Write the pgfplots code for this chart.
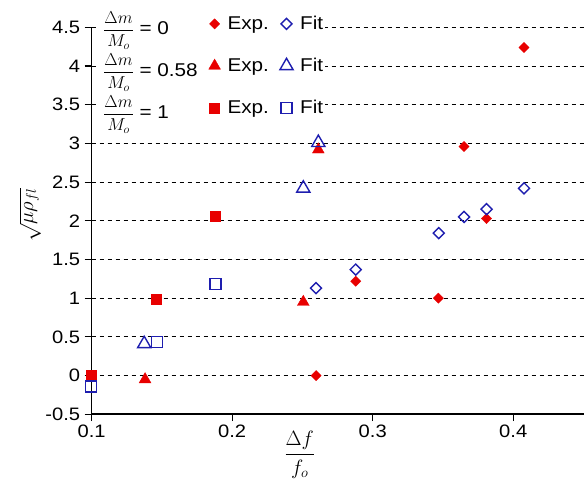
\documentclass[border=0pt]{standalone}
\usepackage{fontspec}
\setmainfont{Liberation Sans}[FakeStretch=1.12]
\usepackage{amsmath}
\usepackage{pgfplots}
\pgfplotsset{compat=1.18}
\definecolor{expred}{RGB}{232,0,0}
\definecolor{fitblue}{RGB}{30,30,175}
\pgfplotsset{
  expD/.style={only marks, mark=square*, mark size=3.6pt, mark options={rotate=45, fill=expred, draw=expred, line width=0.4pt}},
  fitD/.style={only marks, mark=square, mark size=3.9pt, mark options={rotate=45, draw=fitblue, fill=none, line width=1.4pt}},
  expT/.style={only marks, mark=triangle*, mark size=6.8pt, mark options={fill=expred, draw=expred, line width=0.4pt}},
  fitT/.style={only marks, mark=triangle, mark size=7.6pt, mark options={draw=fitblue, fill=none, line width=1.4pt}},
  expS/.style={only marks, mark=square*, mark size=5pt, mark options={fill=expred, draw=expred, line width=0.4pt}},
  fitS/.style={only marks, mark=square, mark size=5.5pt, mark options={draw=fitblue, fill=none, line width=1.4pt}},
}
\begin{document}
\begin{tikzpicture}
\begin{axis}[
  name=ax,
  scale only axis,
  width=492pt, height=387pt,
  xmin=0.1, xmax=0.45, ymin=-0.5, ymax=4.5,
  clip=false,
  axis lines=left,
  axis line style={-, line width=1.5pt, black},
  xtick={0.1,0.2,0.3,0.4},
  ytick={-0.5,0,0.5,1,1.5,2,2.5,3,3.5,4,4.5},
  tick align=outside,
  major tick length=7pt,
  tick style={black, line width=1.2pt},
  ymajorgrids,
  grid style={black, line width=1.1pt, dash pattern=on 4pt off 4pt},
  ticklabel style={font=\fontsize{18}{21}\selectfont},
  yticklabel style={xshift=-1pt},
  /pgf/number format/assume math mode=true,
  legend columns=3,
  legend cell align=left,
  legend image code/.code={\draw[#1] plot coordinates {(0pt,0pt)};},
  legend style={
    draw=none, fill=white, inner sep=0pt,
    at={(rel axis cs:0.009,1.047)}, anchor=north west,
    font=\fontsize{18.5}{22}\selectfont,
    row sep=13pt,
    nodes={inner sep=2pt},
    /tikz/every odd column/.append style={column sep=5pt},
    /tikz/every even column/.append style={column sep=9pt},
  },
]
% Exp. (filled red)
\addplot[expD, forget plot] coordinates {(0.2597,0) (0.2879,1.22) (0.3467,1.0) (0.365,2.96) (0.381,2.03) (0.4077,4.24)};
\addplot[expT, forget plot] coordinates {(0.138,-0.05) (0.2506,0.95) (0.2613,2.92)};
\addplot[expS, forget plot] coordinates {(0.0995,0) (0.1458,0.99) (0.1879,2.06)};
% Fit (open blue)
\addplot[fitD, forget plot] coordinates {(0.2597,1.13) (0.2879,1.37) (0.347,1.84) (0.365,2.05) (0.381,2.15) (0.4077,2.42)};
\addplot[fitT, forget plot] coordinates {(0.1374,0.41) (0.2506,2.42) (0.2613,3.01)};
\addplot[fitS, forget plot] coordinates {(0.0995,-0.14) (0.1463,0.43) (0.188,1.18)};
% legend
\addlegendimage{empty legend}
\addlegendentry{$\displaystyle\frac{\Delta m}{M_o}$ = 0}
\addlegendimage{expD}
\addlegendentry{Exp.}
\addlegendimage{fitD}
\addlegendentry{Fit}
\addlegendimage{empty legend}
\addlegendentry{$\displaystyle\frac{\Delta m}{M_o}$ = 0.58}
\addlegendimage{expT}
\addlegendentry{Exp.}
\addlegendimage{fitT}
\addlegendentry{Fit}
\addlegendimage{empty legend}
\addlegendentry{$\displaystyle\frac{\Delta m}{M_o}$ = 1}
\addlegendimage{expS}
\addlegendentry{Exp.}
\addlegendimage{fitS}
\addlegendentry{Fit}
% axis labels
\node[rotate=90, font=\fontsize{21}{25}\selectfont] at (rel axis cs:-0.125,0.515) {$\sqrt{\mu\rho_{fl}}$};
\node[font=\fontsize{22}{26}\selectfont] at (rel axis cs:0.423,-0.105) {$\displaystyle\frac{\Delta f}{f_o}$};
\end{axis}
\pgfresetboundingbox
\useasboundingbox ([shift={(-91.7pt,-64.6pt)}]ax.south west) rectangle ([shift={(2.5pt,27.4pt)}]ax.north east);
\end{tikzpicture}
\end{document}
